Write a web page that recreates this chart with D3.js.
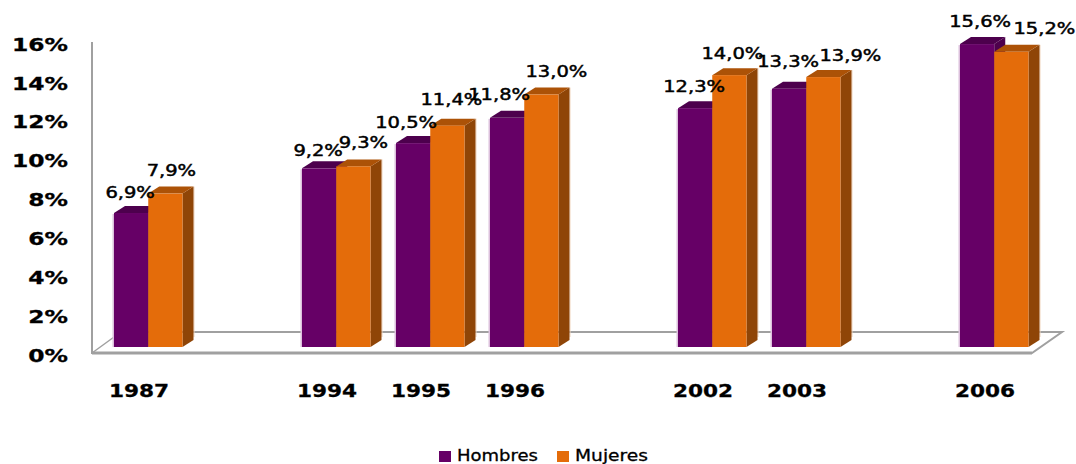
<!DOCTYPE html>
<html>
<head>
<meta charset="utf-8">
<script src="https://cdn.jsdelivr.net/npm/d3@7/dist/d3.min.js"></script>
<style>html,body{margin:0;padding:0;background:#fff}svg{display:block}text{font-family:"DejaVu Sans",sans-serif;fill:#000}</style>
</head>
<body>
<svg id="c" width="1076" height="464"></svg>
<script>
const slots = ["1987","gapA","1994","1995","1996","gapB","2002","2003","gapC","2006"];
const years = ["1987","1994","1995","1996","2002","2003","2006"];
const hombres = [6.9,9.2,10.5,11.8,12.3,13.3,15.6];
const mujeres = [7.9,9.3,11.4,13.0,14.0,13.9,15.2];
const seriesNames = ["Hombres","Mujeres"];
const yTicks = [0,2,4,6,8,10,12,14,16];

const labelDx = {Hombres:[-1,-1,-7,-8,-1,-1,3], Mujeres:[6,10,4,15,3,27,33]};
const labelDy = {Hombres:[-15,-12,-15,-18,-16,-22,-17], Mujeres:[-18,-18,-21,-18,-16,-16,-18]};

const svg = d3.select("#c");
const x = d3.scaleBand().domain(slots).range([101,1041]);
const inner = d3.scaleBand().domain(seriesNames).range([13,81.5]);
const y = d3.scaleLinear().domain([0,16]).range([347,36.3]);
const depthX = 11, depthY = 7;
const colors = {
  Hombres:{front:"#660066",top:"#4d004d",side:"#4d004d",halo:"#dcc0dc"},
  Mujeres:{front:"#e46c0a",top:"#ac5207",side:"#8f4507",halo:"#f0d4bc"}
};

// floor and wall
const floorColor = "#a0a0a0";
const g = svg.append("g");
g.append("path").attr("d",`M92,42V353H1032L1062,332H113`).attr("fill","none").attr("stroke",floorColor).attr("stroke-width",2);
g.append("path").attr("d",`M92,353L114,337`).attr("stroke",floorColor).attr("stroke-width",1.5).attr("fill","none");
g.append("path").attr("d",`M92,353H1032`).attr("stroke",floorColor).attr("stroke-width",3).attr("fill","none");

// y tick labels
const stretch = (sel,px,py,sx)=>sel.attr("transform",`translate(${px},${py}) scale(${sx},1)`);
svg.append("g").selectAll("text").data(yTicks).join("text")
  .text(d=>d+"%")
  .attr("text-anchor","end")
  .attr("font-size",18).attr("font-weight","bold").attr("stroke","#000").attr("stroke-width",0.3)
  .each(function(d){stretch(d3.select(this),68,y(d)+14.5,1.3);});

// x labels
svg.append("g").selectAll("text").data(years).join("text")
  .text(d=>d)
  .attr("text-anchor","middle")
  .attr("font-size",18).attr("font-weight","bold").attr("stroke","#000").attr("stroke-width",0.3)
  .each(function(d){stretch(d3.select(this),x(d)+x.bandwidth()/2-9,397,1.2);});

// bars
const seriesData = [["Hombres",hombres],["Mujeres",mujeres]];
years.forEach((yr,i)=>{
  seriesData.forEach(([name,vals])=>{
    const c = colors[name];
    const x0 = x(yr)+inner(name), w = inner.bandwidth(), yt = y(vals[i]), yb = y(0);
    const b = svg.append("g");
    if (name==="Hombres") b.append("rect").attr("x",x0-1.5).attr("y",yt+1).attr("width",1.5).attr("height",yb-yt-1).attr("fill",c.halo);
    else b.append("rect").attr("x",x0+w+depthX).attr("y",yt-depthY).attr("width",1).attr("height",yb-yt-3).attr("fill",c.halo);
    b.append("path").attr("d",`M${x0+w},${yt}l${depthX},${-depthY}V${yb-depthY}l${-depthX},${depthY}Z`).attr("fill",c.side);
    b.append("path").attr("d",`M${x0},${yt}l${depthX},${-depthY}h${w}l${-depthX},${depthY}Z`).attr("fill",c.top);
    b.append("rect").attr("x",x0).attr("y",yt).attr("width",w).attr("height",yb-yt).attr("fill",c.front);
  });
});

// data labels
seriesData.forEach(([name,vals])=>{
  svg.append("g").selectAll("text").data(vals).join("text")
    .text(d=>d.toFixed(1).replace(".",",")+"%")
    .attr("text-anchor","middle").attr("font-size",15).attr("stroke","#000").attr("stroke-width",0.45)
    .each(function(d,i){
      const cx = x(years[i])+inner(name)+inner.bandwidth()/2+labelDx[name][i];
      stretch(d3.select(this),cx,y(d)+labelDy[name][i],1.3);
    });
});

// legend
const legend = svg.append("g");
const legendX = d3.scaleOrdinal().domain(seriesNames).range([439,557]);
const legendW = {Hombres:81,Mujeres:73};
seriesNames.forEach(n=>{
  legend.append("rect").attr("x",legendX(n)).attr("y",451).attr("width",12).attr("height",11).attr("fill",colors[n].front);
  legend.append("text").text(n).attr("x",legendX(n)+18).attr("y",461).attr("font-size",15.5)
    .attr("stroke","#000").attr("stroke-width",0.3)
    .attr("textLength",legendW[n]).attr("lengthAdjust","spacingAndGlyphs");
});
</script>
</body>
</html>
